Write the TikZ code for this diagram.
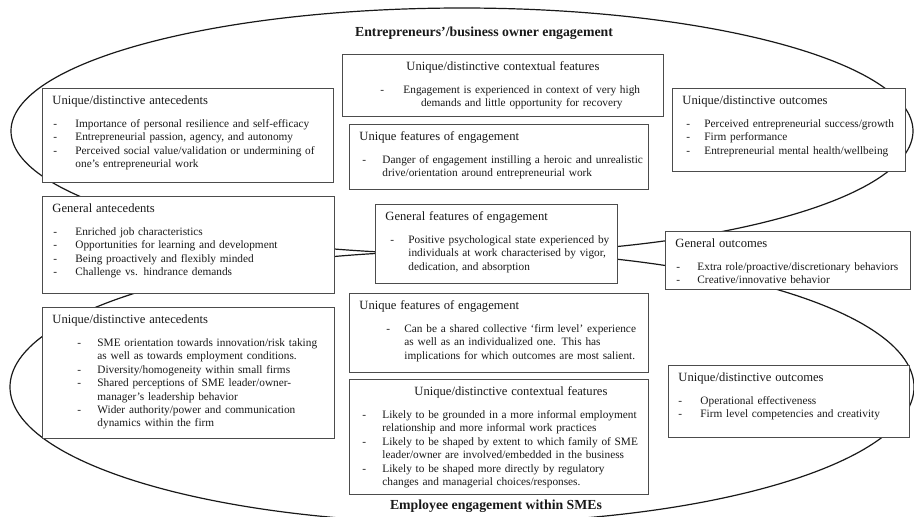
\documentclass[tikz,border=0pt]{standalone}
\usepackage{fontspec}
\setmainfont{Liberation Serif}
\usetikzlibrary{shapes.geometric}

\newcommand{\panelhead}[1]{{\fontsize{12.6}{14}\selectfont #1}}

\begin{document}
\begin{tikzpicture}[
 x=1pt, y=-1pt,
 font=\fontsize{11.3}{13.4}\selectfont,
 box/.style={rectangle, draw=black!70, line width=0.9pt, fill=white, anchor=north west, align=left, inner xsep=10pt, inner ysep=0pt, text height=16pt, text=black!90},
 zone/.style={ellipse, draw=black!90, line width=1.2pt, inner sep=0pt},
 title/.style={font=\fontsize{13.8}{16}\selectfont\bfseries, text=black!90}
]
\useasboundingbox (0,0) rectangle (914,517);
\clip (0,0) rectangle (914,517);

% the two spheres of engagement
\node[zone, minimum width=902, minimum height=246] (ownerzone) at (462,131) {};
\node[zone, minimum width=904, minimum height=272] (smezone) at (462,387) {};

\node[title] (ownertitle) at (484,33) {Entrepreneurs’/business owner engagement};
\node[title] (smetitle) at (496,506) {Employee engagement within SMEs};

% antecedents
\node[box, text width=271pt, text depth=78pt] (ownerante) at (42,88) {\panelhead{Unique/distinctive antecedents}\\[9.6pt]
\begin{tabular}[t]{@{\hspace{1pt}}p{22pt}@{}l@{}}
- & Importance of personal resilience and self-efficacy\\
- & Entrepreneurial passion, agency, and autonomy\\
- & Perceived social value/validation or undermining of\\
  & one’s entrepreneurial work
\end{tabular}};
\node[box, text width=272pt, text depth=81pt] (genante) at (42,196) {\panelhead{General antecedents}\\[9.6pt]
\begin{tabular}[t]{@{\hspace{1pt}}p{22pt}@{}l@{}}
- & Enriched job characteristics\\
- & Opportunities for learning and development\\
- & Being proactively and flexibly minded\\
- & Challenge vs. hindrance demands
\end{tabular}};
\node[box, text width=272pt, text depth=115pt] (smeante) at (42,307) {\panelhead{Unique/distinctive antecedents}\\[9.6pt]
\begin{tabular}[t]{@{\hspace{25pt}}p{20pt}@{}l@{}}
- & SME orientation towards innovation/risk taking\\
  & as well as towards employment conditions.\\
- & Diversity/homogeneity within small firms\\
- & Shared perceptions of SME leader/owner-\\
  & manager’s leadership behavior\\
- & Wider authority/power and communication\\
  & dynamics within the firm
\end{tabular}};

% features
\node[box, text width=301pt, text depth=46pt] (ownerctx) at (342,54) {\hspace*{54pt}\panelhead{Unique/distinctive contextual features}\\[9.6pt]
\begin{tabular}[t]{@{\hspace{28pt}}p{23pt}@{}c@{}}
- & Engagement is experienced in context of very high\\
  & demands and little opportunity for recovery
\end{tabular}};
\node[box, text width=279pt, text depth=49pt] (ownerfeat) at (349,124) {\panelhead{Unique features of engagement}\\[9.6pt]
\begin{tabular}[t]{@{\hspace{3pt}}p{20pt}@{}l@{}}
- & Danger of engagement instilling a heroic and unrealistic\\
  & drive/orientation around entrepreneurial work
\end{tabular}};
\node[box, text width=222pt, text depth=63pt] (genfeat) at (375,204) {\panelhead{General features of engagement}\\[9.6pt]
\begin{tabular}[t]{@{\hspace{5pt}}p{18pt}@{}l@{}}
- & Positive psychological state experienced by\\
  & individuals at work characterised by vigor,\\
  & dedication, and absorption
\end{tabular}};
\node[box, text width=279pt, text depth=63pt] (smefeat) at (349,293) {\panelhead{Unique features of engagement}\\[9.6pt]
\begin{tabular}[t]{@{\hspace{27pt}}p{18pt}@{}l@{}}
- & Can be a shared collective ‘firm level’ experience\\
  & as well as an individualized one. This has\\
  & implications for which outcomes are most salient.
\end{tabular}};
\node[box, text width=279pt, text depth=99pt] (smectx) at (349,379) {\hspace*{55pt}\panelhead{Unique/distinctive contextual features}\\[9.6pt]
\begin{tabular}[t]{@{\hspace{3pt}}p{20pt}@{}l@{}}
- & Likely to be grounded in a more informal employment\\
  & relationship and more informal work practices\\
- & Likely to be shaped by extent to which family of SME\\
  & leader/owner are involved/embedded in the business\\
- & Likely to be shaped more directly by regulatory\\
  & changes and managerial choices/responses.
\end{tabular}};

% outcomes
\node[box, text width=213pt, text depth=67pt] (ownerout) at (672,88) {\panelhead{Unique/distinctive outcomes}\\[9.6pt]
\begin{tabular}[t]{@{\hspace{4pt}}p{18pt}@{}l@{}}
- & Perceived entrepreneurial success/growth\\
- & Firm performance\\
- & Entrepreneurial mental health/wellbeing
\end{tabular}};
\node[box, text width=225pt, text depth=42pt] (genout) at (665,231) {\panelhead{General outcomes}\\[9.6pt]
\begin{tabular}[t]{@{\hspace{1pt}}p{21pt}@{}l@{}}
- & Extra role/proactive/discretionary behaviors\\
- & Creative/innovative behavior
\end{tabular}};
\node[box, text width=221pt, text depth=56pt] (smeout) at (668,365) {\panelhead{Unique/distinctive outcomes}\\[9.6pt]
\begin{tabular}[t]{@{}p{22pt}@{}l@{}}
- & Operational effectiveness\\
- & Firm level competencies and creativity
\end{tabular}};
\end{tikzpicture}
\end{document}
